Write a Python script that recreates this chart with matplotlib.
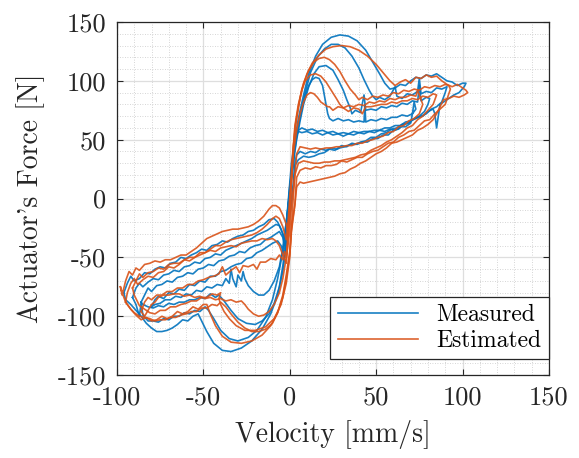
import matplotlib
matplotlib.use('Agg')
import matplotlib.pyplot as plt
from matplotlib.ticker import MultipleLocator

# (velocity [mm/s], force [N]) samples for each measured / estimated cycle
meas1 = [(-96,-80),(-94,-72),(-92,-66),(-90,-70),(-87,-68),(-84,-63),(-81,-64),(-78,-60),(-75,-58),(-72,-59),(-69,-55),(-66,-54),(-63,-50),(-60,-51),(-57,-48),(-54,-46),(-51,-43),(-48,-44),(-45,-40),(-42,-39),(-39,-36),(-36,-37),(-33,-34),(-30,-32),(-27,-31),(-24,-28),(-21,-27),(-18,-24),(-15,-22),(-12,-18),(-9,-17),(-7,-20),(-5,-26),(-3,-34),
         (-2,-22),(-1,-5),(0,12),(1,30),(3,50),(5,68),(8,88),(11,106),(15,121),(19,131),(24,137),(29,139),(34,138),(39,134),(44,126),(48,116),(52,106),(55,98),(58,93),
         (61,94),(64,97),(67,96),(70,100),(73,103),(76,102),(79,105),(82,104),(85,106),(88,103),(91,100),(94,99),(97,96),(100,98),(102,98),(101,95),
         (98,90),(95,88),(92,85),(89,82),(87,80),(86,70),(85,60),(84,72),(83,76),(80,74),(77,70),(74,69),(71,67),(68,64),(65,63),(62,60),(59,59),(56,56),(53,55),(50,52),(47,52),(44,49),(41,48),(38,46),(35,46),(32,44),(29,43),(26,41),(23,42),(20,39),(17,38),(14,36),(11,35),(8,36),(5,33),(3,28),
         (2,8),(0,-15),(-2,-40),(-4,-62),(-7,-82),(-11,-98),(-16,-111),(-22,-121),(-28,-127),(-34,-130),(-39,-129),(-44,-123),(-48,-113),(-51,-104),(-53,-98),
         (-56,-100),(-59,-104),(-62,-103),(-65,-107),(-68,-110),(-71,-112),(-74,-113),(-77,-113),(-80,-110),(-83,-106),(-86,-100),(-89,-95),(-92,-90),(-95,-86),(-96,-80)]

meas2 = [(-91,-84),(-89,-76),(-87,-72),(-85,-75),(-82,-71),(-79,-68),(-76,-69),(-73,-65),(-70,-64),(-67,-61),(-64,-62),(-61,-58),(-58,-57),(-55,-54),(-52,-55),(-49,-51),(-46,-50),(-43,-47),(-40,-48),(-37,-44),(-34,-42),(-31,-40),(-28,-38),(-25,-36),(-22,-34),(-19,-31),(-16,-29),(-13,-27),(-10,-24),(-8,-22),(-6,-23),(-4,-30),(-3,-40),
         (-2,-25),(-1,-8),(0,10),(2,32),(4,52),(6,70),(9,90),(12,107),(16,120),(20,127),(24,131),(28,131),(32,128),(36,121),(40,111),(43,101),(46,92),(48,87),(50,84),
         (52,86),(55,84),(58,87),(61,95),(62,87),(65,85),(68,89),(71,88),(74,91),(75,102),(76,89),(79,91),(82,90),(85,94),(88,93),(91,95),(90,90),
         (88,82),(85,78),(82,76),(79,72),(76,70),(73,68),(70,66),(67,65),(64,62),(61,62),(58,60),(55,60),(52,58),(49,58),(46,57),(43,57),(40,56),(37,57),(34,55),(31,56),(28,55),(25,57),(22,56),(19,58),(16,57),(13,59),(10,58),(7,60),(5,58),(3,50),
         (2,30),(0,5),(-2,-20),(-4,-45),(-7,-68),(-10,-86),(-14,-101),(-19,-112),(-24,-118),(-30,-121),(-35,-119),(-40,-112),(-44,-102),(-47,-95),
         (-49,-92),(-52,-96),(-55,-95),(-58,-98),(-61,-97),(-64,-100),(-67,-100),(-70,-103),(-73,-102),(-76,-105),(-79,-104),(-82,-104),(-85,-99),(-86,-88),(-87,-100),(-89,-90),(-91,-84)]

meas3 = [(-86,-88),(-84,-82),(-82,-76),(-80,-79),(-77,-74),(-74,-73),(-71,-70),(-68,-71),(-65,-67),(-62,-66),(-59,-63),(-56,-64),(-53,-60),(-50,-59),(-47,-56),(-44,-57),(-41,-53),(-38,-52),(-35,-49),(-32,-48),(-29,-45),(-26,-46),(-23,-42),(-20,-40),(-17,-39),(-14,-35),(-11,-33),(-8,-30),(-6,-28),(-4,-33),(-3,-42),
         (-2,-30),(-1,-12),(0,8),(2,30),(4,50),(6,66),(8,80),(11,95),(14,106),(17,112),(21,113),(25,109),(28,101),(31,92),(33,84),(35,77),(36,72),
         (38,75),(41,73),(43,88),(44,75),(47,76),(50,75),(53,78),(56,77),(59,79),(62,78),(65,81),(68,80),(71,83),(74,82),(75,96),(76,83),(79,86),(81,85),(80,80),
         (78,74),(75,70),(72,68),(69,64),(66,63),(63,59),(60,58),(57,54),(54,54),(51,51),(48,51),(45,48),(42,48),(39,46),(36,47),(33,44),(30,45),(27,42),(24,43),(21,41),(18,42),(15,39),(12,40),(9,38),(6,40),(4,37),(3,30),
         (2,12),(0,-12),(-2,-35),(-4,-57),(-6,-75),(-9,-89),(-12,-98),(-16,-104),(-20,-107),(-25,-106),(-30,-102),(-34,-95),(-38,-87),(-41,-82),
         (-43,-84),(-46,-81),(-49,-85),(-52,-84),(-55,-86),(-58,-86),(-61,-88),(-64,-88),(-67,-90),(-70,-89),(-73,-92),(-76,-91),(-79,-93),(-82,-92),(-85,-90),(-86,-88)]

meas4 = [(-80,-92),(-78,-86),(-76,-83),(-73,-85),(-70,-80),(-67,-81),(-64,-77),(-61,-78),(-58,-73),(-55,-74),(-52,-70),(-49,-71),(-46,-66),(-43,-66),(-40,-62),(-37,-61),(-34,-58),(-31,-56),(-28,-55),(-25,-51),(-22,-50),(-19,-46),(-16,-44),(-13,-41),(-10,-38),(-7,-36),(-5,-40),(-3,-48),
         (-2,-35),(-1,-15),(0,5),(1,25),(3,45),(5,62),(7,76),(9,88),(11,96),(13,101),(15,103),(17,102),(19,96),(20,88),(21,80),(22,72),(23,68),
         (25,66),(28,68),(31,66),(34,67),(37,65),(40,66),(43,65),(43.5,80),(44,65),(47,67),(50,66),(53,68),(56,67),(59,69),(62,69),(65,71),(68,70),(71,72),(73,76),(72,82),(71,72),
         (70,64),(67,61),(64,61),(61,58),(58,59),(55,57),(52,58),(49,56),(46,57),(43,55),(40,56),(37,54),(34,55),(31,53),(28,55),(25,54),(22,56),(19,54),(16,56),(13,55),(10,57),(7,56),(5,57),(3,50),
         (2,30),(0,5),(-2,-20),(-4,-42),(-6,-58),(-9,-70),(-12,-78),(-15,-82),(-18,-82),(-21,-79),(-24,-74),(-26,-68),
         (-27,-62),(-28,-70),(-30,-65),(-31,-75),(-33,-68),(-34,-60),(-35,-72),(-37,-68),(-39,-74),(-42,-73),(-45,-76),(-48,-75),(-51,-79),(-54,-78),(-57,-82),(-60,-81),(-63,-84),(-66,-83),(-69,-86),(-72,-86),(-75,-89),(-78,-90),(-80,-92)]

est1 = [(-98,-75),(-97,-82),(-95,-70),(-93,-62),(-91,-65),(-89,-59),(-87,-61),(-84,-56),(-81,-55),(-78,-53),(-75,-54),(-72,-52),(-69,-52),(-66,-50),(-63,-48),(-60,-48),(-57,-45),(-54,-42),(-51,-38),(-48,-34),(-45,-32),(-42,-30),(-39,-28),(-36,-27),(-33,-26),(-30,-26),(-27,-25),(-24,-24),(-21,-22),(-18,-19),(-15,-15),(-12,-9),(-10,-6),(-8,-6),(-6,-8),(-4,-14),(-2,-22),
        (-1,-30),(0,-10),(1,15),(2,40),(3,60),(5,78),(7,93),(10,106),(13,115),(17,122),(21,127),(25,129),(30,130),(35,129),(40,126),(45,121),(50,114),(54,107),(58,100),(61,96),
        (64,99),(67,101),(70,98),(73,103),(76,102),(79,105),(82,103),(85,104),(88,100),(91,97),(94,95),(97,97),(100,94),(102,92),(103,90),
        (101,88),(98,86),(95,87),(92,85),(89,84),(87,78),(85,72),(83,67),(80,63),(77,60),(74,58),(71,54),(68,52),(65,50),(62,48),(59,47),(56,43),(53,40),(50,38),(47,35),(44,32),(41,30),(38,27),(35,25),(32,22),(29,21),(26,19),(23,18),(20,17),(17,16),(14,15),(11,14),(8,13),(6,14),(4,10),
        (3,-5),(1,-25),(0,-45),(-2,-65),(-4,-82),(-7,-97),(-11,-108),(-16,-116),(-22,-121),(-28,-123),(-34,-122),(-39,-117),(-43,-108),(-46,-98),(-48,-90),
        (-50,-90),(-53,-94),(-56,-92),(-59,-96),(-62,-98),(-65,-96),(-68,-100),(-71,-102),(-74,-100),(-77,-103),(-80,-104),(-83,-101),(-86,-103),(-89,-99),(-92,-94),(-95,-88),(-97,-80),(-98,-75)]

est2 = [(-95,-88),(-94,-80),(-92,-72),(-90,-68),(-88,-73),(-85,-69),(-82,-66),(-79,-67),(-76,-63),(-73,-62),(-70,-58),(-67,-59),(-64,-56),(-61,-52),(-58,-53),(-55,-50),(-52,-46),(-49,-46),(-46,-43),(-43,-40),(-40,-40),(-37,-37),(-34,-35),(-31,-34),(-28,-33),(-25,-32),(-22,-31),(-19,-29),(-16,-26),(-13,-22),(-10,-17),(-8,-15),(-6,-17),(-4,-24),(-2,-35),
        (-1,-20),(0,0),(1,22),(2,45),(4,68),(6,85),(8,98),(11,109),(14,116),(17,119),(20,120),(23,118),(26,114),(29,108),(32,100),(35,93),(38,88),(40,84),
        (42,86),(45,84),(48,87),(51,86),(54,88),(57,87),(60,90),(63,89),(66,92),(69,91),(72,93),(75,92),(78,95),(81,94),(84,96),(87,95),(90,97),(92,96),(93,93),
        (90,80),(87,76),(84,72),(81,67),(78,66),(75,62),(72,58),(69,57),(66,54),(63,52),(60,48),(57,47),(54,44),(51,41),(48,40),(45,38),(42,35),(39,35),(36,33),(33,31),(30,32),(27,29),(24,28),(21,28),(18,26),(15,27),(12,25),(9,26),(6,24),(4,18),
        (3,-5),(1,-28),(0,-48),(-2,-68),(-4,-84),(-7,-97),(-10,-106),(-14,-111),(-18,-113),(-22,-113),(-26,-110),(-30,-105),(-34,-98),(-37,-92),(-40,-88),
        (-42,-91),(-45,-90),(-48,-93),(-51,-93),(-54,-96),(-57,-96),(-60,-98),(-63,-99),(-66,-101),(-69,-101),(-72,-103),(-75,-103),(-78,-104),(-81,-102),(-84,-101),(-87,-100),(-90,-97),(-92,-94),(-94,-90),(-95,-88)]

est3 = [(-91,-76),(-89,-70),(-87,-64),(-85,-67),(-82,-63),(-79,-62),(-76,-59),(-73,-60),(-70,-56),(-67,-55),(-64,-55),(-61,-52),(-58,-50),(-55,-50),(-52,-48),(-49,-46),(-46,-44),(-43,-45),(-40,-42),(-37,-41),(-34,-40),(-31,-41),(-28,-38),(-25,-37),(-22,-36),(-19,-36),(-16,-34),(-13,-35),(-10,-34),(-8,-36),(-6,-40),(-4,-48),(-2,-55),
        (-1,-35),(0,-10),(1,15),(2,40),(3,62),(5,80),(7,92),(9,100),(12,105),(15,106),(18,104),(21,99),(24,92),(27,85),(29,80),(31,77),(32,76),
        (34,74),(37,77),(40,76),(42,72),(44,78),(47,78),(50,79),(53,80),(56,80),(59,82),(62,81),(65,83),(68,83),(71,85),(74,84),(77,87),(80,86),(83,89),(85,88),
        (83,80),(80,75),(77,70),(74,67),(71,62),(68,60),(65,56),(62,53),(59,50),(56,48),(53,45),(50,43),(47,41),(44,38),(41,37),(38,35),(35,34),(32,33),(29,32),(26,32),(23,31),(20,31),(17,30),(14,30),(11,31),(8,32),(5,30),(3,20),
        (2,0),(1,-25),(0,-50),(-2,-72),(-5,-90),(-9,-102),(-14,-109),(-20,-112),(-26,-112),(-31,-108),(-35,-102),(-38,-96),(-40,-90),(-41,-85),(-40,-80),
        (-42,-82),(-45,-81),(-48,-84),(-51,-84),(-54,-87),(-57,-87),(-60,-89),(-63,-90),(-66,-92),(-69,-92),(-72,-95),(-75,-95),(-78,-98),(-81,-97),(-84,-94),(-87,-91),(-90,-82),(-91,-76)]

est4 = [(-86,-96),(-84,-88),(-82,-84),(-80,-86),(-77,-82),(-74,-82),(-71,-79),(-68,-79),(-65,-76),(-62,-76),(-59,-73),(-56,-73),(-53,-70),(-50,-69),(-47,-67),(-44,-66),(-41,-64),(-39,-58),(-37,-65),(-34,-61),(-31,-58),(-29,-63),(-27,-57),(-24,-58),(-21,-56),(-19,-60),(-17,-54),(-14,-54),(-11,-51),(-8,-52),(-6,-48),(-4,-52),(-3,-45),(-2,-50),
        (-1,-30),(0,-8),(1,15),(2,38),(4,58),(6,72),(8,82),(10,88),(12,90),(14,89),(16,86),(18,82),(20,80),(21,79),(22,78),(23,78),
        (25,75),(28,78),(31,77),(34,79),(37,78),(40,80),(43,79),(46,82),(49,81),(52,83),(55,82),(58,85),(61,84),(64,86),(67,86),(70,88),(73,87),(74,92),(75,88),(76,84),(77,80),
        (75,72),(72,68),(69,66),(66,62),(63,61),(60,57),(57,56),(54,53),(51,52),(48,50),(45,49),(42,47),(39,47),(36,45),(33,45),(30,44),(27,44),(24,43),(21,43),(18,42),(15,43),(12,42),(9,43),(6,44),(4,38),
        (3,20),(1,-5),(0,-28),(-2,-50),(-4,-68),(-6,-80),(-9,-90),(-12,-96),(-15,-99),(-18,-100),(-21,-98),(-24,-94),(-26,-90),
        (-28,-87),(-31,-88),(-34,-86),(-37,-87),(-40,-85),(-43,-86),(-46,-84),(-49,-85),(-52,-83),(-55,-84),(-58,-82),(-61,-83),(-64,-81),(-67,-81),(-70,-82),(-73,-82),(-76,-84),(-78,-88),(-80,-90),(-82,-95),(-84,-100),(-86,-96)]

measured = [meas1, meas2, meas3, meas4]
estimated = [est1, est2, est3, est4]

plt.rcParams['font.family'] = 'cmr10'
plt.rcParams['mathtext.fontset'] = 'cm'
plt.rcParams['axes.unicode_minus'] = False

blue = '#0072BD'
orange = '#D95319'
dark = '#262626'

fig = plt.figure(figsize=(5.79, 4.58), dpi=100)
ax = fig.add_axes([0.202, 0.181, 0.746, 0.771])

for i, cyc in enumerate(measured):
    v, f = zip(*cyc)
    ax.plot(v, f, color=blue, lw=1.2, alpha=0.9, label='Measured' if i == 0 else None)
for i, cyc in enumerate(estimated):
    v, f = zip(*cyc)
    ax.plot(v, f, color=orange, lw=1.2, alpha=0.9, label='Estimated' if i == 0 else None)

ax.set_xlim(-100, 150)
ax.set_ylim(-150, 150)
ax.xaxis.set_major_locator(MultipleLocator(50))
ax.yaxis.set_major_locator(MultipleLocator(50))
ax.xaxis.set_minor_locator(MultipleLocator(10))
ax.yaxis.set_minor_locator(MultipleLocator(10))
ax.set_axisbelow(True)
ax.grid(which='major', color='#dedede', lw=0.9)
ax.grid(which='minor', color='#c8c8c8', lw=0.6, ls=(0, (1, 2)))
ax.tick_params(which='major', direction='in', top=True, right=True, length=4,
               width=0.8, labelsize=19, colors=dark, pad=8)
ax.tick_params(which='minor', length=0)
for sp in ax.spines.values():
    sp.set_color(dark)
    sp.set_linewidth(0.9)

ax.set_xlabel('Velocity [mm/s]', fontsize=20, color=dark, labelpad=7)
ax.set_ylabel("Actuator's Force [N]", fontsize=20, color=dark, labelpad=9)

leg = ax.legend(loc='lower right', bbox_to_anchor=(1.0, 0.045), borderaxespad=0,
                fontsize=17, handlelength=3.4, fancybox=False, framealpha=1,
                edgecolor=dark, borderpad=0.3, labelspacing=0.15, handletextpad=0.8)
leg.get_frame().set_linewidth(0.9)

fig.savefig('out.png', dpi=100)
